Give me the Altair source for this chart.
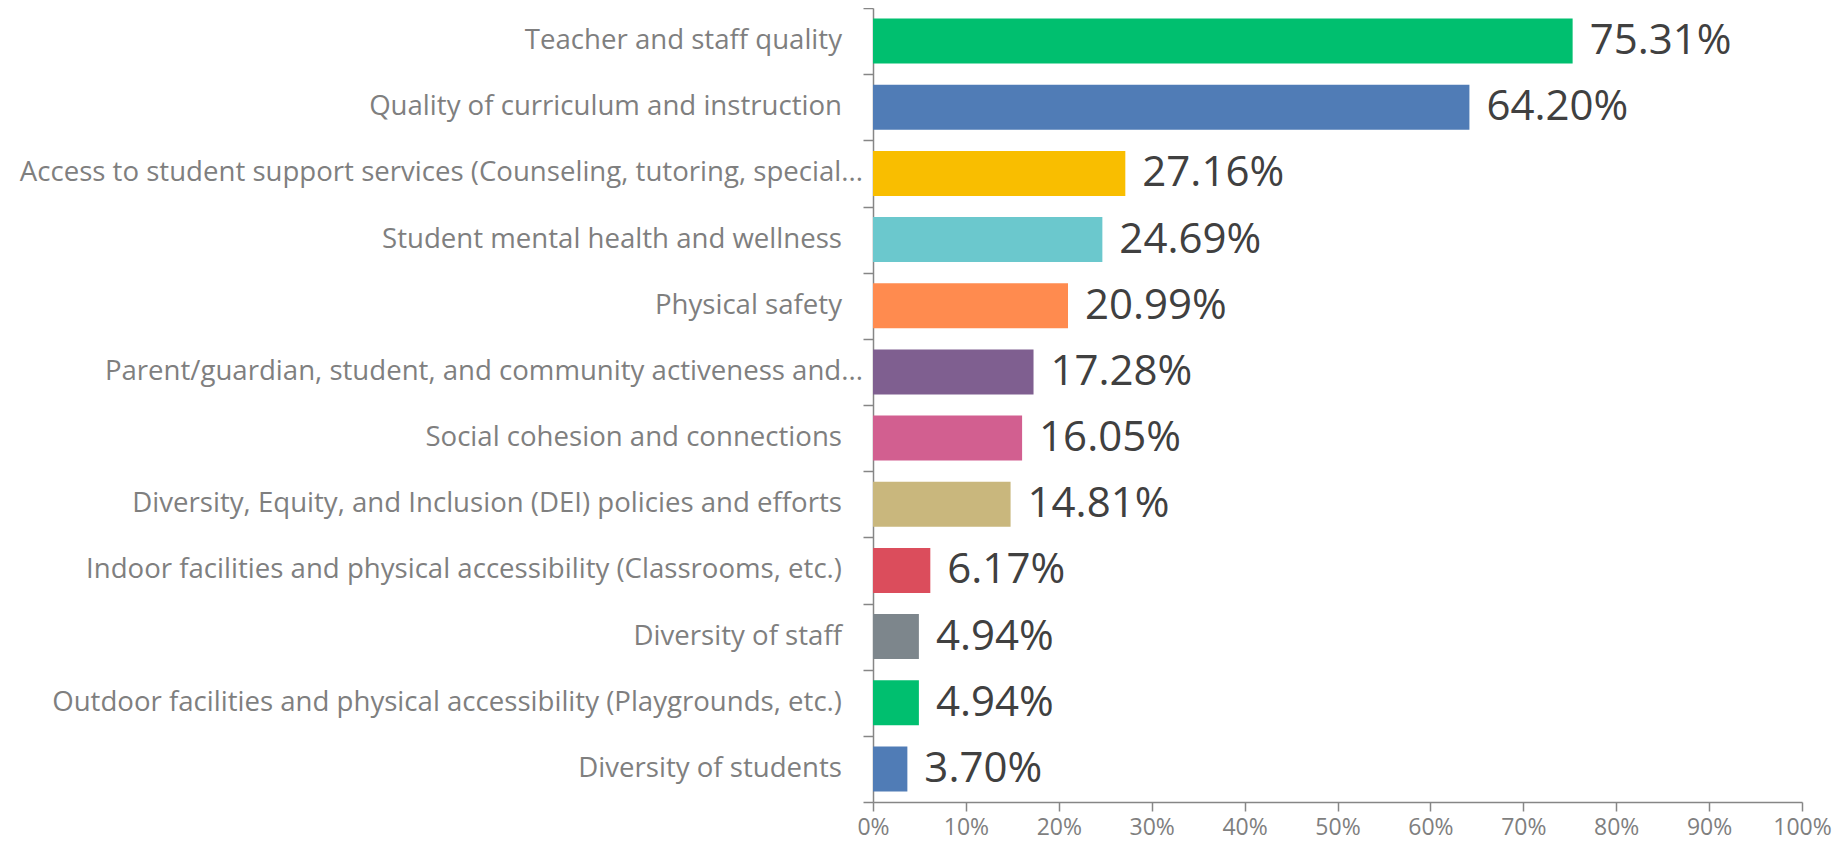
import altair as alt
import pandas as pd

categories = [
    "Teacher and staff quality",
    "Quality of curriculum and instruction",
    "Access to student support services (Counseling, tutoring, special...",
    "Student mental health and wellness",
    "Physical safety",
    "Parent/guardian, student, and community activeness and...",
    "Social cohesion and connections",
    "Diversity, Equity, and Inclusion (DEI) policies and efforts",
    "Indoor facilities and physical accessibility (Classrooms, etc.)",
    "Diversity of staff",
    "Outdoor facilities and physical accessibility (Playgrounds, etc.)",
    "Diversity of students",
]
values = [75.31, 64.20, 27.16, 24.69, 20.99, 17.28, 16.05, 14.81, 6.17, 4.94, 4.94, 3.70]
colors = [
    "#00BF6F", "#507CB6", "#F9BE00", "#6BC8CD", "#FF8B4F", "#7F5F90",
    "#D25F90", "#C9B77D", "#DB4D5C", "#7D868C", "#00BF6F", "#507CB6",
]
x_ticks = [0, 0.1, 0.2, 0.3, 0.4, 0.5, 0.6, 0.7, 0.8, 0.9, 1.0]

df = pd.DataFrame({"category": categories, "value": [v / 100 for v in values]})
df["truncated"] = df["category"].str.endswith("...")

FONT = "Open Sans"
GRAY = "#868686"
LABEL_GRAY = "#7f7f7f"

y_enc = alt.Y(
    "category:N",
    sort=categories,
    title=None,
    scale=alt.Scale(paddingInner=0, paddingOuter=0),
    axis=alt.Axis(
        tickBand="extent",
        domainColor=GRAY,
        domainWidth=1.5,
        tickColor=GRAY,
        tickWidth=1.5,
        tickSize=10,
        labels=False,
    ),
)
x_enc = alt.X(
    "value:Q",
    title=None,
    scale=alt.Scale(domain=[0, 1], nice=False),
    axis=alt.Axis(
        values=x_ticks,
        format=".0%",
        grid=False,
        domainColor=GRAY,
        domainWidth=1.5,
        tickColor=GRAY,
        tickWidth=1.5,
        tickSize=9,
        labelPadding=5,
        labelFlush=False,
        labelColor=LABEL_GRAY,
        labelFont=FONT,
        labelFontSize=23,
    ),
)

base = alt.Chart(df)
bars = base.mark_bar(height=alt.RelativeBandSize(0.68)).encode(
    x=x_enc,
    y=y_enc,
    color=alt.Color("category:N", scale=alt.Scale(domain=categories, range=colors), legend=None),
)
text = base.mark_text(align="left", baseline="middle", dx=17, font=FONT, fontSize=42, color="#404040").encode(
    x=alt.X("value:Q"),
    y=alt.Y("category:N", sort=categories),
    text=alt.Text("value:Q", format=".2%"),
)

label_style = dict(align="right", baseline="middle", font=FONT, fontSize=27.6, color=LABEL_GRAY)
labels_full = base.transform_filter("!datum.truncated").mark_text(dx=-31, **label_style).encode(
    x=alt.value(0),
    y=alt.Y("category:N", sort=categories),
    text="category:N",
)
labels_trunc = base.transform_filter("datum.truncated").mark_text(dx=-10, **label_style).encode(
    x=alt.value(0),
    y=alt.Y("category:N", sort=categories),
    text="category:N",
)

chart = (
    alt.layer(bars, text, labels_full, labels_trunc)
    .properties(
        width=929,
        height=794,
        autosize=alt.AutoSizeParams(type="none"),
        padding={"left": 865, "top": 0, "right": 35, "bottom": 39},
    )
    .configure_view(stroke=None)
)

chart.save("out.html", embed_options={"renderer": "svg", "actions": False})
